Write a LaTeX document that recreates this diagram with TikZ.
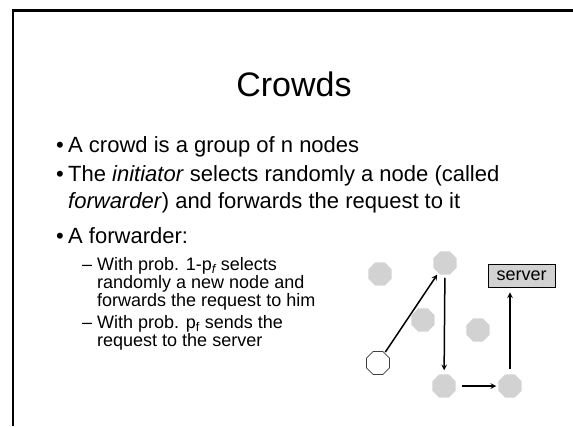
\documentclass[tikz,border=0pt]{standalone}
\usepackage{fontspec}
\setmainfont{Liberation Sans}
\usetikzlibrary{shapes.geometric}

\begin{document}
\begin{tikzpicture}[x=1pt, y=-1pt,
    crowd/.style={regular polygon, regular polygon sides=8, fill=gray!35,
      minimum size=25pt, inner sep=0pt},
    initiator/.style={crowd, fill=white, draw=black!75, line width=0.8pt},
    bullettext/.style={anchor=base west, inner sep=0pt, align=left,
      font=\fontsize{22}{27}\selectfont},
    subtext/.style={anchor=base west, inner sep=0pt, align=left,
      font=\fontsize{18}{18}\selectfont}]
  \useasboundingbox (0,0) rectangle (573,426);
  \draw[line width=2.2pt] (13,426) -- (13,10.5) -- (573,10.5);

  \node[anchor=base, inner sep=0pt, font=\fontsize{34}{40}\selectfont] (title) at (294,96) {Crowds};

  % bullets (multi-line nodes sit on their last baseline)
  \begin{scope}[every node/.style={bullettext}]
    \node (b1) at (56,152) {\textbullet};
    \node (t1) at (68,152) {A crowd is a group of n nodes};
    \node (b2) at (56,181) {\textbullet};
    \node (t2) at (68,208) {The \textit{initiator} selects randomly a node (called\\
      \textit{forwarder}) and forwards the request to it};
    \node (b3) at (56,243) {\textbullet};
    \node (t3) at (68,243) {A forwarder:};
  \end{scope}

  \begin{scope}[every node/.style={subtext}]
    \node (d1) at (82,270) {--};
    \node (s1) at (97,306) {With prob. 1-p\textsubscript{\itshape f} selects\\
      randomly a new node and\\ forwards the request to him};
    \node (d2) at (82,328) {--};
    \node (s2) at (97,346) {With prob. p\textsubscript{f}\ sends the\\ request to the server};
  \end{scope}

  % the crowd
  \begin{scope}[every node/.style={crowd}]
    \node (left) at (380,274) {};
    \node (top) at (445,263) {};
    \node (mid) at (423,320) {};
    \node (right) at (478,330) {};
    \node (low1) at (444,386) {};
    \node (low2) at (510,386) {};
  \end{scope}
  \node[initiator] (init) at (378,363) {};
  \node[draw, line width=0.8pt, fill=gray!35, minimum width=67pt, minimum height=23pt,
    inner sep=0pt, font=\fontsize{18}{21}\selectfont] (server) at (521.5,275.5) {server};

  \begin{scope}[->, >=stealth, line width=1.5pt]
    \draw[shorten <=1pt, shorten >=2pt] (init) to (top);
    \draw[shorten <=3pt, shorten >=4pt] (top) to (low1);
    \draw[shorten <=6pt, shorten >=2pt] (low1) to (low2);
    \draw[shorten <=5pt, shorten >=5pt] (low2) to (low2 |- server.south);
  \end{scope}
\end{tikzpicture}
\end{document}
